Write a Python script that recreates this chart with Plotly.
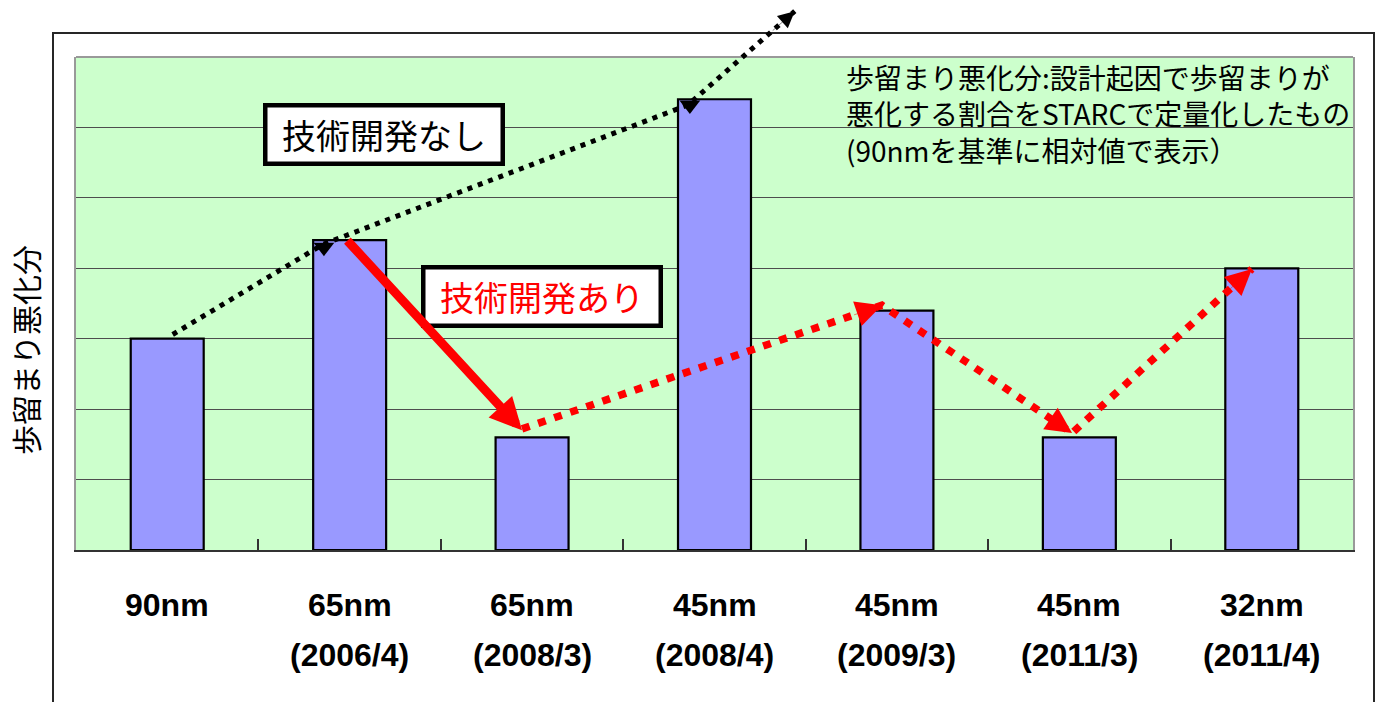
import math
import plotly.graph_objects as go

# Process nodes (first label line), release dates (second line) and relative yield loss
nodes = ["90nm", "65nm", "65nm", "45nm", "45nm", "45nm", "32nm"]
dates = ["", "(2006/4)", "(2008/3)", "(2008/4)", "(2009/3)", "(2011/3)", "(2011/4)"]
yield_loss = [3.0, 4.4, 1.6, 6.4, 3.4, 1.6, 4.0]

y_title = "歩留まり悪化分"
label_without = "技術開発なし"
label_with = "技術開発あり"
note_lines = [
    "歩留まり悪化分:設計起因で歩留まりが",
    "悪化する割合をSTARCで定量化したもの",
    "(90nmを基準に相対値で表示）",
]

N = len(nodes)
Y_MAX = 7

# Figure / plot-area geometry
FIG_W, FIG_H = 1383, 702
M_L, M_R, M_T, M_B = 76, 30, 57, 152
PLOT_W = FIG_W - M_L - M_R
PLOT_H = FIG_H - M_T - M_B

JP = "Noto Sans CJK JP"
LAT = "Arial, Liberation Sans, sans-serif"


def xpaper(i):
    return (i + 0.5) / N


def ypaper(v):
    return v / Y_MAX


def xpix(i):
    return xpaper(i) * PLOT_W


def ypix(v):
    # screen pixels, positive downwards
    return -ypaper(v) * PLOT_H


def px_x(p):
    # figure pixel column -> paper x
    return (p - M_L) / PLOT_W


def px_y(p):
    # figure pixel row -> paper y
    return (M_T + PLOT_H - p) / PLOT_H


def path_of(points):
    return " ".join(
        ("M" if k == 0 else "L") + f" {xpaper(i):.5f} {ypaper(v):.5f}"
        for k, (i, v) in enumerate(points)
    )


def arrow_head(tip, prev, color, scale, shaft=0.5):
    dx = xpix(prev[0]) - xpix(tip[0])
    dy = ypix(prev[1]) - ypix(tip[1])
    d = math.hypot(dx, dy)
    L = 30
    return dict(
        x=xpaper(tip[0]), y=ypaper(tip[1]), xref="paper", yref="paper",
        ax=dx / d * L, ay=dy / d * L, showarrow=True, text="",
        font=dict(size=1), borderpad=0,
        arrowhead=2, arrowwidth=shaft, arrowsize=scale / shaft, arrowcolor=color,
    )


# Trend without design improvements (black dotted, runs off the top)
trend_plain = [
    (0 + 0.03, yield_loss[0] + 0.06),
    (1 - 0.146, yield_loss[1] - 0.06),
    (3 - 0.145, yield_loss[3] - 0.08),
    (3 + 0.44, yield_loss[3] + 1.25),
]
# Trend with design improvements (red dotted)
trend_improved = [
    (2 - 0.055, yield_loss[2] + 0.12),
    (4 - 0.082, yield_loss[4] + 0.075),
    (5 - 0.04, yield_loss[5] + 0.06),
    (6 - 0.054, yield_loss[6] - 0.01),
]
# Solid red drop from 65nm(2006/4) to 65nm(2008/3)
drop_tail = (1 - 0.015, yield_loss[1])
drop_tip = (2 - 0.055, yield_loss[2] + 0.10)

fig = go.Figure()

fig.add_trace(go.Bar(
    x=list(range(N)), y=yield_loss, width=0.4,
    marker=dict(color="#9999FF", line=dict(color="#000000", width=2.2)),
    hoverinfo="skip",
))

# small black pointers sitting on the bar tops
fig.add_trace(go.Scatter(
    x=[trend_plain[1][0] + 0.005, trend_plain[2][0] + 0.01],
    y=[yield_loss[1] - 0.1, yield_loss[3] - 0.08],
    mode="markers", cliponaxis=False, hoverinfo="skip",
    marker=dict(symbol="triangle-down", size=18, color="#000000", line=dict(width=0)),
))

shapes = [
    # chart frame
    dict(type="rect", xref="paper", yref="paper",
         x0=px_x(53), x1=px_x(1374), y0=px_y(712), y1=px_y(33),
         line=dict(color="#262626", width=2), layer="below"),
    # plot-area top border
    dict(type="line", xref="paper", yref="paper", x0=0, x1=1, y0=1, y1=1,
         line=dict(color="#999999", width=2)),
    dict(type="path", xref="paper", yref="paper", path=path_of(trend_plain),
         line=dict(color="#000000", width=5, dash="5px,6px"), layer="above"),
    dict(type="path", xref="paper", yref="paper", path=path_of(trend_improved),
         line=dict(color="#FF0000", width=7.5, dash="8px,9px"), layer="above"),
]

annotations = []
# category labels
for i in range(N):
    annotations.append(dict(
        x=i, xref="x", y=px_y(605), yref="paper",
        text=nodes[i], showarrow=False, xanchor="center", yanchor="middle",
        font=dict(family=LAT, size=32, color="#000000", weight=700),
    ))
    if dates[i]:
        annotations.append(dict(
            x=i, xref="x", y=px_y(655), yref="paper",
            text=dates[i], showarrow=False, xanchor="center", yanchor="middle",
            font=dict(family=LAT, size=32, color="#000000", weight=700),
        ))

# axis title
annotations.append(dict(
    x=px_x(25), y=px_y(350), xref="paper", yref="paper",
    xanchor="center", yanchor="middle",
    text=y_title, textangle=-90, showarrow=False,
    font=dict(family=JP, size=30, color="#000000"),
))

# labelled boxes
annotations.append(dict(
    x=px_x(384), y=px_y(134.5), xref="paper", yref="paper",
    xanchor="center", yanchor="middle",
    text=label_without, showarrow=False, width=233, height=54,
    bgcolor="#FFFFFF", bordercolor="#000000", borderwidth=4.5, borderpad=0,
    font=dict(family=JP, size=34, color="#000000"),
))
annotations.append(dict(
    x=px_x(542), y=px_y(296.5), xref="paper", yref="paper",
    xanchor="center", yanchor="middle",
    text=label_with, showarrow=False, width=233, height=54,
    bgcolor="#FFFFFF", bordercolor="#000000", borderwidth=4.5, borderpad=0,
    font=dict(family=JP, size=34, color="#FF0000"),
))

# explanatory note
annotations.append(dict(
    x=px_x(844), y=px_y(113), xref="paper", yref="paper",
    xanchor="left", yanchor="middle", align="left", showarrow=False,
    text="<br>".join(note_lines),
    font=dict(family=JP, size=28, color="#000000"),
))

# arrow heads
annotations.append(arrow_head(trend_plain[3], trend_plain[2], "#000000", 3.3))
for k in range(1, len(trend_improved)):
    annotations.append(arrow_head(trend_improved[k], trend_improved[k - 1], "#FF0000", 5.2))

# solid red drop arrow
annotations.append(dict(
    x=xpaper(drop_tip[0]), y=ypaper(drop_tip[1]), xref="paper", yref="paper",
    ax=xpix(drop_tail[0]) - xpix(drop_tip[0]), ay=ypix(drop_tail[1]) - ypix(drop_tip[1]),
    showarrow=True, text="", font=dict(size=1), borderpad=0,
    arrowhead=2, arrowwidth=9, arrowsize=0.71, arrowcolor="#FF0000",
))

fig.update_layout(
    width=FIG_W, height=FIG_H,
    margin=dict(l=M_L, r=M_R, t=M_T, b=M_B, pad=0),
    paper_bgcolor="#FFFFFF", plot_bgcolor="#CCFFCC",
    showlegend=False, shapes=shapes, annotations=annotations,
    xaxis=dict(
        range=[-0.5, N - 0.5], tickvals=[k - 0.5 for k in range(N + 1)],
        ticks="inside", ticklen=11, tickwidth=1.5, tickcolor="#333333",
        showticklabels=False, showgrid=False, zeroline=False,
        showline=True, linecolor="#333333", linewidth=2,
    ),
    yaxis=dict(
        range=[0, Y_MAX], tick0=0, dtick=1, showticklabels=False, ticks="",
        showgrid=True, gridcolor="#4d4d4d", gridwidth=1, zeroline=False,
        showline=True, linecolor="#999999", linewidth=2, mirror=True,
    ),
)

fig.write_html("out.html")
